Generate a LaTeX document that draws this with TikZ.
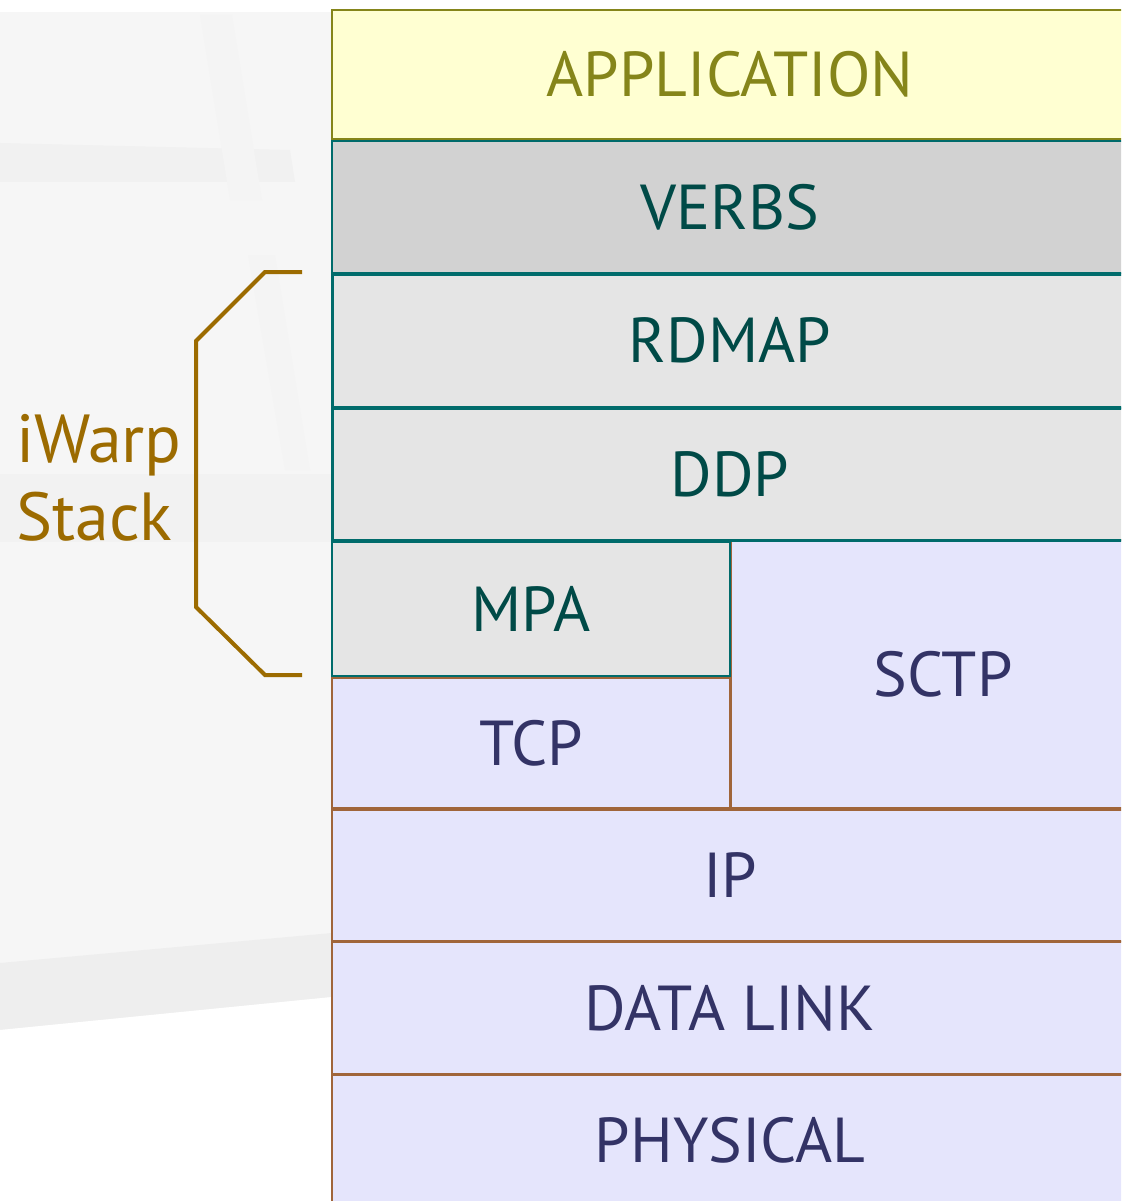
\documentclass[tikz,border=0pt]{standalone}
\usepackage{fontspec}
\setmainfont{PT Sans}
\usetikzlibrary{positioning}

\definecolor{appfill}{HTML}{FFFFD2}
\definecolor{appline}{HTML}{85851A}
\definecolor{verbfill}{HTML}{D2D2D2}
\definecolor{rdmafill}{HTML}{E5E5E5}
\definecolor{rdmaline}{HTML}{006B6B}
\definecolor{rdmatext}{HTML}{004A47}
\definecolor{netfill}{HTML}{E5E5FC}
\definecolor{netline}{HTML}{A0653A}
\definecolor{nettext}{HTML}{333366}
\definecolor{iwarpcol}{HTML}{9C6B00}

\tikzset{
  layer/.style={rectangle, draw, anchor=north west, inner sep=0pt, outer sep=0pt,
    line width=2.5pt, minimum width=796pt, font=\fontsize{63.5}{70}\selectfont},
  applayer/.style={layer, fill=appfill, draw=appline, text=appline},
  rdmalayer/.style={layer, fill=rdmafill, draw=rdmaline, text=rdmatext},
  netlayer/.style={layer, fill=netfill, draw=netline, text=nettext},
}

\begin{document}
\begin{tikzpicture}[x=1pt, y=-1pt]
  \useasboundingbox (0,0) rectangle (1121,1201);
  \clip (0,0) rectangle (1121,1201);

  % backdrop
  \fill[white] (0,0) rectangle (1121,1201);
  \fill[gray!7] (0,12) rectangle (332,1201);
  \fill[gray!11] (0,143) -- (290,150) -- (295,182) -- (0,182) -- cycle;
  \fill[gray!9] (200,15) -- (232,15) -- (262,200) -- (230,200) -- cycle;
  \fill[gray!9] (248,255) -- (275,255) -- (310,470) -- (285,470) -- cycle;
  \fill[gray!10] (0,474) -- (332,474) -- (332,542) -- (0,542) -- cycle;
  \fill[gray!13] (0,963) -- (332,933) -- (332,997) -- (0,1030) -- cycle;
  \fill[white] (0,1030) -- (332,997) -- (332,1201) -- (0,1201) -- cycle;

  % the protocol layers, bottom up
  \node[netlayer, minimum height=130pt] (phys) at (332,1075) {PHYSICAL};
  \node[netlayer, minimum height=132pt] (link) at (332,942) {DATA LINK};
  \node[netlayer, minimum height=131pt] (ip) at (332,810) {IP};
  \node[netlayer, minimum width=398pt, minimum height=130pt] (tcp) at (332,678) {TCP};
  \node[netlayer, minimum width=424pt, minimum height=268pt] (sctp) at (731,540) {SCTP};
  \node[rdmalayer, minimum width=398pt, minimum height=134pt] (mpa) at (332,542) {MPA};
  \node[rdmalayer, minimum height=132pt, line width=3pt] (ddp) at (332,408) {DDP};
  \node[rdmalayer, minimum height=133pt, line width=3pt] (rdmap) at (332,274) {RDMAP};
  \node[rdmalayer, fill=verbfill, minimum height=132pt] (verbs) at (332,141) {VERBS};
  \node[applayer, minimum height=129pt] (app) at (332,10) {APPLICATION};

  % brace round the iWarp part
  \coordinate (brtop) at (302,272);
  \coordinate (brbot) at (302,675);
  \draw[iwarpcol, line width=4pt] (brtop) -- ++(-37,0) -- (196,341)
    -- (196,607) -- (265,675) -- (brbot);
  \node[anchor=west, align=left, text=iwarpcol, inner sep=0pt,
    font=\fontsize{68}{78}\selectfont] (iwarp) at (16,478) {iWarp\\Stack};
\end{tikzpicture}
\end{document}
